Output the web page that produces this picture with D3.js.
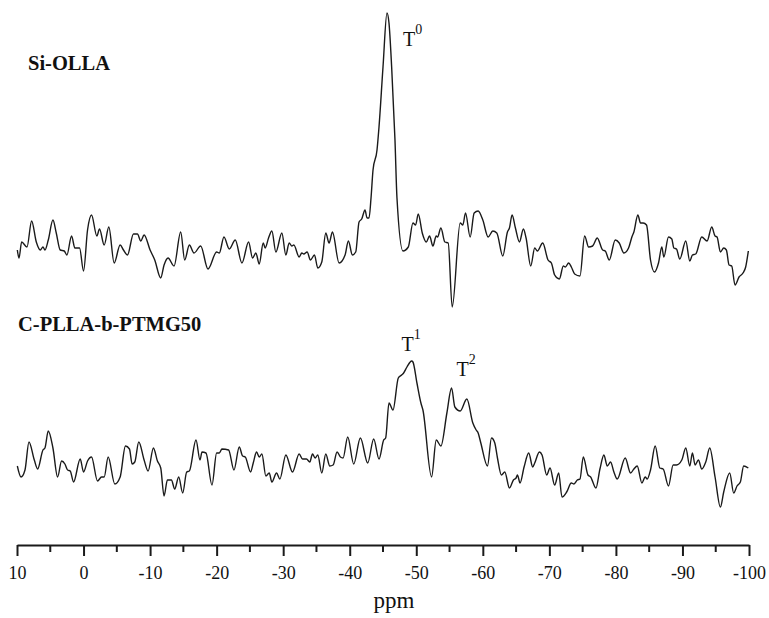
<!DOCTYPE html>
<html>
<head>
<meta charset="utf-8">
<script src="https://cdn.jsdelivr.net/npm/d3@7"></script>
<style>
  html, body { margin: 0; padding: 0; background: #fff; }
  svg { display: block; }
</style>
</head>
<body>
<svg id="chart" width="769" height="618"></svg>
<script>
// ---- data (ppm, intensity in arbitrary units) ----
const topPpm = [9.95,9.7,9.3,8.5,7.8,7.1,6.5,6.1,5.8,5.3,4.6,4.1,3.5,2.9,2.5,1.8,1.3,0.6,0.0,-0.6,-1.2,-2.0,-2.4,-3.1,-3.8,-4.6,-5.5,-6.0,-6.6,-7.5,-8.1,-8.6,-9.1,-10.0,-10.7,-11.6,-12.1,-12.7,-13.6,-14.6,-15.2,-15.9,-16.6,-17.6,-18.7,-20.0,-20.4,-21.1,-21.9,-22.8,-23.8,-24.8,-25.4,-25.9,-26.4,-27.0,-27.3,-27.8,-28.3,-28.9,-29.8,-30.4,-30.9,-31.3,-31.6,-32.4,-32.8,-33.1,-33.6,-34.1,-34.7,-35.2,-35.8,-36.4,-36.9,-37.4,-38.4,-39.3,-39.8,-40.4,-40.9,-41.4,-41.8,-42.3,-42.6,-42.9,-43.2,-43.5,-44.1,-44.4,-45.0,-45.6,-45.9,-46.3,-46.8,-47.1,-48.0,-48.8,-49.5,-49.9,-50.3,-50.9,-51.5,-52.0,-52.5,-53.0,-53.2,-53.7,-54.3,-54.8,-55.4,-56.6,-57.0,-57.4,-58.1,-58.7,-59.3,-60.0,-60.8,-61.5,-62.1,-63.0,-63.7,-64.0,-64.4,-64.9,-65.5,-66.1,-66.5,-67.2,-67.8,-68.2,-69.0,-69.8,-70.3,-70.8,-71.5,-72.1,-72.4,-72.9,-73.3,-73.8,-74.6,-75.3,-75.9,-76.5,-77.2,-78.0,-78.4,-79.0,-79.9,-80.5,-81.2,-81.9,-82.4,-82.7,-83.3,-83.7,-84.1,-84.6,-85.2,-85.8,-86.4,-86.9,-87.2,-87.9,-88.4,-88.7,-89.1,-89.6,-90.5,-91.1,-91.5,-92.0,-92.9,-93.7,-94.4,-94.9,-95.2,-95.7,-96.2,-96.6,-97.0,-97.4,-97.9,-98.5,-99.1,-99.5,-99.9];
const topInt = [-2,-10,6,1,27,6,-2,1,-2,8,28,15,-2,-3,-7,12,0,0,-23,18,33,12,19,3,21,-15,3,-2,-7,14,14,7,13,-2,-12,-30,-17,-10,-18,16,-12,3,-5,2,-21,-4,-5,11,-1,8,-15,6,-10,-5,-16,5,0,10,17,-4,15,-7,5,2,3,-9,-5,-6,-4,-12,-7,-20,-14,15,5,16,-15,-7,7,-7,-4,26,29,38,30,30,50,78,98,121,181,235,225,181,108,50,-3,1,25,23,34,15,6,12,2,12,11,20,6,5,-59,25,23,35,11,35,37,28,11,17,15,-8,16,20,33,20,6,19,10,-18,0,-3,5,-12,-15,-27,-31,-18,-19,-15,-19,-26,-28,12,1,2,10,-2,-3,-12,8,5,-5,0,11,16,33,25,25,23,-12,-24,-15,1,-9,11,9,0,-1,-11,7,-13,-7,-6,11,7,21,12,11,-4,0,-2,-17,-18,-37,-29,-25,-19,-3];

const botPpm = [9.95,9.4,8.8,8.2,7.4,6.9,6.1,5.8,5.3,4.6,3.9,3.3,2.8,2.4,2.0,1.5,0.5,0.0,-0.6,-1.2,-2.1,-2.7,-3.1,-3.7,-4.7,-5.5,-6.3,-6.9,-7.3,-7.7,-8.3,-9.1,-9.7,-10.5,-11.1,-11.6,-12.1,-12.6,-13.2,-13.7,-14.3,-14.9,-15.5,-15.9,-16.9,-17.5,-17.8,-18.4,-19.3,-20.0,-20.4,-20.8,-21.8,-22.6,-23.4,-23.9,-24.3,-25.1,-25.5,-26.0,-26.4,-26.8,-27.4,-27.9,-28.3,-29.0,-29.5,-30.4,-31.4,-32.4,-32.9,-33.5,-34.0,-34.4,-34.8,-35.2,-35.8,-36.4,-37.0,-37.5,-38.1,-38.6,-39.0,-39.7,-40.6,-41.6,-42.7,-43.6,-44.4,-45.1,-45.4,-45.9,-46.5,-47.3,-47.8,-48.1,-48.6,-49.3,-49.5,-50.1,-50.7,-51.0,-52.3,-53.0,-53.7,-54.6,-55.3,-55.8,-56.6,-57.6,-58.5,-59.0,-59.3,-59.7,-60.7,-61.3,-61.8,-62.2,-62.8,-63.3,-64.0,-64.6,-65.0,-65.2,-65.6,-66.2,-66.9,-67.5,-67.8,-68.5,-68.9,-69.6,-70.1,-70.8,-71.4,-71.9,-72.6,-73.3,-73.7,-74.2,-74.6,-75.1,-75.8,-76.2,-77.0,-77.6,-78.2,-78.7,-79.2,-79.7,-80.2,-81.4,-82.2,-82.7,-83.2,-83.9,-84.4,-84.7,-85.2,-85.9,-86.6,-87.1,-87.9,-88.6,-89.1,-89.9,-90.5,-91.1,-91.5,-91.9,-92.4,-92.9,-93.5,-94.1,-94.9,-95.7,-96.2,-97.1,-97.7,-98.2,-98.7,-99.2,-99.9];
const botInt = [-1,-12,-5,23,5,-4,15,17,34,17,-12,4,1,-5,-6,-17,6,-7,4,8,-16,-12,-12,8,-19,-12,19,16,1,3,23,5,-6,17,4,-3,-31,-15,-15,-24,-12,-28,-7,-6,25,5,13,12,-20,12,12,16,15,-5,18,9,8,-7,2,13,8,11,-11,-8,-17,-8,-14,10,-7,11,6,6,3,11,7,10,-8,11,-1,0,13,8,7,28,1,27,2,26,6,25,27,62,55,87,90,92,98,104,103,82,62,55,-12,25,19,52,77,58,54,66,42,35,32,22,-1,27,22,7,-10,-7,-23,-15,-13,-10,-18,-2,12,-2,2,13,10,-10,-3,-20,-8,-32,-27,-18,-19,-15,-14,8,-10,-12,-23,-4,10,-1,3,-7,-14,7,-8,-4,-1,-18,-12,-14,-5,19,-3,-4,-21,0,0,5,17,-1,12,0,5,-4,3,17,-12,-42,-27,-8,-28,-21,-17,-1,-3];

const seriesNames = ["Si-OLLA", "C-PLLA-b-PTMG50"];
const seriesOffsets = [217, 0];
const majorTicks = [10, 0, -10, -20, -30, -40, -50, -60, -70, -80, -90, -100];
const minorTicks = [5, -5, -15, -25, -35, -45, -55, -65, -75, -85, -95];
const peakNames = ["T", "T", "T"];
const peakSups = ["0", "1", "2"];
const peakPpm = [-45.6, -49.3, -55.3];
const peakSeries = [0, 1, 1];
const peakInt = [235, 104, 77];

// ---- chart ----
const svg = d3.select("#chart");
const x = d3.scaleLinear().domain([10, -100]).range([17, 749]);
const y = d3.scaleLinear().domain([-80, 465]).range([545, 0]);

const traces = [
  d3.zip(topPpm, topInt),
  d3.zip(botPpm, botInt)
];

const line = d3.line().curve(d3.curveMonotoneX);

traces.forEach((pts, i) => {
  svg.append("path")
    .attr("d", line(pts.map(d => [x(d[0]), y(d[1] + seriesOffsets[i])])))
    .attr("fill", "none")
    .attr("stroke", "#1a1a1a")
    .attr("stroke-width", 1.4)
    .attr("stroke-linejoin", "round");
});

// series labels
const labelPos = [[28, 70], [18, 331]];
seriesNames.forEach((name, i) => {
  svg.append("text")
    .attr("x", labelPos[i][0]).attr("y", labelPos[i][1])
    .attr("font-family", "'Liberation Serif', 'Times New Roman', serif")
    .attr("font-weight", "bold")
    .attr("font-size", 20.5)
    .attr("fill", "#111")
    .text(name);
});

// peak labels
peakNames.forEach((n, i) => {
  const px = x(peakPpm[i]) + [16, -10, 5][i];
  const py = y(peakInt[i] + seriesOffsets[peakSeries[i]]) + [33, -10, -12][i];
  const t = svg.append("text")
    .attr("x", px).attr("y", py)
    .attr("font-family", "'Liberation Serif', 'Times New Roman', serif")
    .attr("font-size", 20)
    .attr("fill", "#111");
  t.append("tspan").text(n);
  t.append("tspan").attr("dy", -12).attr("font-size", 14).text(peakSups[i]);
});

// axis
const axisG = svg.append("g").attr("transform", "translate(0,545)");
const axis = d3.axisBottom(x).tickValues(majorTicks).tickSize(11).tickSizeOuter(0)
  .tickFormat(d3.format("d"));
axisG.call(axis);
axisG.select(".domain").attr("stroke", "#1a1a1a").attr("stroke-width", 2);
axisG.selectAll(".tick line").attr("stroke", "#1a1a1a").attr("stroke-width", 2);
axisG.selectAll(".tick text")
  .attr("y", 34).attr("dy", 0)
  .attr("font-family", "'Liberation Serif', 'Times New Roman', serif")
  .attr("font-size", 18)
  .attr("fill", "#111")
  .text(d => (d < 0 ? "-" + Math.abs(d) : String(d)));

axisG.selectAll(".minor")
  .data(minorTicks).enter().append("line")
  .attr("class", "minor")
  .attr("x1", d => x(d)).attr("x2", d => x(d))
  .attr("y1", 0).attr("y2", 7)
  .attr("stroke", "#1a1a1a").attr("stroke-width", 2);

svg.append("text")
  .attr("x", 394).attr("y", 608)
  .attr("text-anchor", "middle")
  .attr("font-family", "'Liberation Serif', 'Times New Roman', serif")
  .attr("font-size", 23)
  .attr("fill", "#111")
  .text("ppm");
</script>
</body>
</html>
